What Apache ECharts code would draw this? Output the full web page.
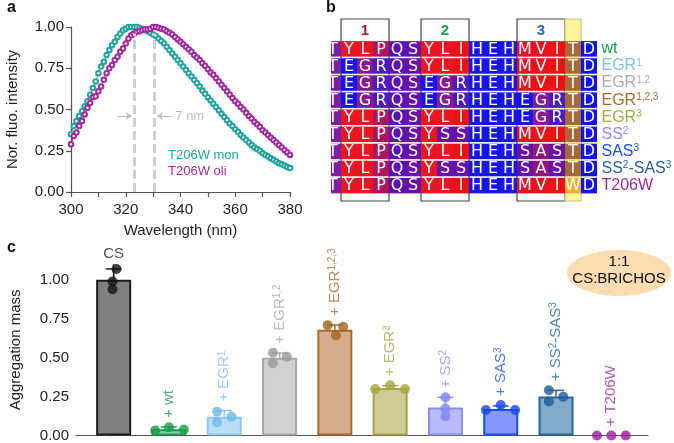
<!DOCTYPE html>
<html><head><meta charset="utf-8">
<script src="https://cdn.jsdelivr.net/npm/echarts@6/dist/echarts.min.js"></script>
<style>html,body{margin:0;padding:0;background:#fff}#c{width:674px;height:443px}</style>
</head><body><div id="c"></div>
<script>
// ---------- Panel a data ----------
const wavelengths = [300,301,302,303,304,305,306,307,308,309,310,311,312,313,314,315,316,317,318,319,320,321,322,323,324,325,326,327,328,329,330,331,332,333,334,335,336,337,338,339,340,341,342,343,344,345,346,347,348,349,350,351,352,353,354,355,356,357,358,359,360,361,362,363,364,365,366,367,368,369,370,371,372,373,374,375,376,377,378,379,380];
const monIntensity = [0.35,0.40,0.43,0.46,0.49,0.52,0.55,0.59,0.63,0.67,0.72,0.76,0.79,0.83,0.86,0.89,0.91,0.94,0.96,0.98,0.99,1.00,1.00,1.00,1.00,0.995,0.99,0.985,0.975,0.965,0.955,0.945,0.93,0.915,0.90,0.88,0.86,0.84,0.82,0.80,0.78,0.76,0.74,0.72,0.70,0.68,0.66,0.64,0.615,0.595,0.575,0.555,0.535,0.515,0.495,0.475,0.455,0.435,0.415,0.40,0.38,0.365,0.345,0.33,0.315,0.30,0.285,0.27,0.26,0.25,0.235,0.225,0.215,0.205,0.195,0.185,0.175,0.168,0.16,0.152,0.145];
const oliIntensity = [0.29,0.34,0.36,0.40,0.43,0.47,0.51,0.54,0.575,0.58,0.61,0.64,0.68,0.72,0.75,0.77,0.80,0.82,0.85,0.87,0.90,0.93,0.95,0.96,0.97,0.975,0.98,0.985,0.985,0.99,1.00,1.00,0.995,0.99,0.985,0.975,0.965,0.955,0.94,0.925,0.91,0.895,0.88,0.865,0.85,0.83,0.815,0.80,0.78,0.765,0.745,0.725,0.71,0.69,0.67,0.65,0.63,0.61,0.59,0.57,0.55,0.535,0.515,0.50,0.48,0.46,0.445,0.425,0.41,0.395,0.375,0.36,0.345,0.33,0.315,0.30,0.285,0.27,0.255,0.24,0.225];
const peakWavelengths = [323, 330.5];
const shiftLabel = '7 nm';
const seriesNamesA = ['T206W mon', 'T206W oli'];

// ---------- Panel b data ----------
const variantLabels = ['wt','EGR{s|1}','EGR{s|1,2}','EGR{s|1,2,3}','EGR{s|3}','SS{s|2}','SAS{s|3}','SS{s|2}-SAS{s|3}','T206W'];
const sequences = [
  'TYLPQSYLIHEHMVITD',
  'TEGRQSYLIHEHMVITD',
  'TEGRQSEGRHEHMVITD',
  'TEGRQSEGRHEHEGRTD',
  'TYLPQSYLIHEHEGRTD',
  'TYLPQSYSSHEHMVITD',
  'TYLPQSYLIHEHSASTD',
  'TYLPQSYSSHEHSASTD',
  'TYLPQSYLIHEHMVIWD'
];
const boxStartCol = [1, 6, 12];
const boxEndCol = [4, 9, 15];
const boxNumbers = ['1', '2', '3'];
const highlightCol = 15;

// ---------- Panel c data ----------
const barLabels = ['CS','+ wt','+ EGR{s|1}','+ EGR{s|1,2}','+ EGR{s|1,2,3}','+ EGR{s|3}','+ SS{s|2}','+ SAS{s|3}','+ SS{s|2}-SAS{s|3}','+ T206W'];
const barMeans = [1.00, 0.04, 0.12, 0.50, 0.68, 0.305, 0.18, 0.17, 0.25, 0];
const replicates = [
  [1.07, 0.99, 0.94],
  [0.032, 0.053, 0.038],
  [0.153, 0.085, 0.121],
  [0.532, 0.464, 0.506],
  [0.709, 0.643, 0.698],
  [0.298, 0.323, 0.298],
  [0.245, 0.174, 0.123],
  [0.164, 0.196, 0.164],
  [0.291, 0.219, 0.249],
  [0, 0, 0]
];
const errorTop = [1.07, 0.055, 0.16, 0.53, 0.71, 0.32, 0.245, 0.19, 0.29, null];
const jitter = [
  [0.05,-0.02,-0.02],[-0.25,0,0.27],[-0.13,-0.13,0.13],[-0.12,-0.12,0.13],[-0.13,0.02,0.15],
  [-0.27,0,0.27],[0,0,0],[-0.27,0,0.26],[-0.13,-0.13,0.13],[-0.26,0,0.26]
];
const ellipseText = ['1:1', 'CS:BRICHOS'];

// ---------- styles ----------
const FONT = '"Liberation Sans", Arial, Helvetica, sans-serif';
const monColor = '#20a39e', oliColor = '#a3299f';
const residueColors = {T:'#7b1fa6',Y:'#ec1520',L:'#ec1520',P:'#b0145c',Q:'#5a12b6',S:'#6612aa',I:'#f01010',H:'#1818e6',E:'#1414ec',M:'#e8121e',V:'#ec1018',D:'#1212ee',G:'#8a1a92',R:'#4c1cc0',A:'#92167c',W:'#f5b030'};
const highlightT = '#a86838';
const boxNumColors = ['#9b1b30','#1aa04a','#2a6aaa'];
const barFill = ['#808080','#86cfa0','#b9ddf6','#d1d1d1','#d6ad8a','#cfcb97','#b8bbff','#8598ff','#80a9cc',null];
const barBorder = ['#1a1a1a','#1f9a52','#8ec9f0','#a9a9a9','#a76a30','#a9a545','#8a8ff5','#1c4ff0','#2a65a0',null];
const pointColor = ['#111111','#1a9a4a','#72b9ea','#9a9a9a','#a0621e','#a8a23a','#8085f3','#1646e8','#1c5a98','#9a1a9a'];
const labelColor = ['#222222','#1a9a4a','#7fc1ee','#aaaaaa','#a66b2c','#aaa648','#8a8ef5','#1a52ee','#2464a0','#9a2a9a'];

const axisLineStyle = {lineStyle:{color:'#555', width:1.2}};
const axisTickStyle = {length:5, lineStyle:{color:'#555', width:1.2}};
const axisLabelBase = {color:'#222', fontSize:15, fontFamily:FONT};

const chart = echarts.init(document.getElementById('c'), null, {width:674, height:443});

// cells for panel b
const cellData = [], cellLetters = [];
sequences.forEach((seq, r) => {
  for (let c = 0; c < seq.length; c++) { cellData.push([c, r, cellLetters.length]); cellLetters.push(seq[c]); }
});

// replicate points
const pointData = [];
replicates.forEach((arr, i) => arr.forEach((v, k) => pointData.push({value:[i + jitter[i][k], v], itemStyle:{color:pointColor[i]}})));
const labelAnchors = replicates.map((arr, i) => [i, Math.max(...arr, errorTop[i] == null ? 0 : errorTop[i])]);

const option = {
  animation: false,
  backgroundColor: '#fff',
  grid: [
    {left:71, top:27, width:219, height:165},
    {left:331, top:19, width:266, height:182},
    {left:72, top:264.3, width:576, height:172.4}
  ],
  xAxis: [
    {gridIndex:0, type:'value', min:300, max:380, interval:10,
     axisLine:axisLineStyle, axisTick:axisTickStyle, splitLine:{show:false},
     axisLabel:Object.assign({}, axisLabelBase, {margin:10, formatter:v => (v % 20 === 0 ? String(v) : '')}),
     name:'Wavelength (nm)', nameLocation:'middle', nameGap:31,
     nameTextStyle:{color:'#222', fontSize:15, fontFamily:FONT}},
    {gridIndex:1, type:'value', min:0.375, max:17, show:false},
    {gridIndex:2, type:'value', min:-0.681, max:9.663, axisLine:axisLineStyle,
     axisTick:{show:false}, axisLabel:{show:false}, splitLine:{show:false}}
  ],
  yAxis: [
    {gridIndex:0, type:'value', min:0, max:1, interval:0.25,
     axisLine:{show:true, lineStyle:{color:'#555', width:1.2}}, axisTick:{show:true, length:5, lineStyle:{color:'#555', width:1.2}}, splitLine:{show:false},
     axisLabel:Object.assign({}, axisLabelBase, {margin:7, formatter:v => v.toFixed(2)}),
     name:'Nor. fluo. intensity', nameLocation:'middle', nameGap:51,
     nameTextStyle:{color:'#222', fontSize:15, fontFamily:FONT}},
    {gridIndex:1, type:'value', min:-1.294, max:9.353, inverse:true, show:false},
    {gridIndex:2, type:'value', min:0, max:1.1,
     axisLine:{show:true, lineStyle:{color:'#555', width:1.2}},
     axisTick:{show:true, length:5, lineStyle:{color:'#555', width:1.2}, customValues:[0,0.25,0.5,0.75,1]},
     splitLine:{show:false},
     axisLabel:Object.assign({}, axisLabelBase, {margin:7, formatter:v => v.toFixed(2), customValues:[0,0.25,0.5,0.75,1]}),
     name:'Aggregation mass', nameLocation:'middle', nameGap:53,
     nameTextStyle:{color:'#222', fontSize:15, fontFamily:FONT}}
  ],
  series: [
    // ---- panel a ----
    {type:'line', name:seriesNamesA[0], xAxisIndex:0, yAxisIndex:0,
     data:wavelengths.map((w, i) => [w, monIntensity[i]]),
     symbol:'emptyCircle', symbolSize:4.5, showAllSymbol:true,
     lineStyle:{color:monColor, width:1}, itemStyle:{color:monColor, borderWidth:1.4}, z:3,
     markLine:{silent:true, symbol:'none', animation:false,
       data:[
         [{coord:[peakWavelengths[0],0], lineStyle:{color:'#cfcfcf', width:3, type:[9,4]}, label:{show:false}}, {coord:[peakWavelengths[0],0.96]}],
         [{coord:[peakWavelengths[1],0], lineStyle:{color:'#cfcfcf', width:3, type:[9,4]}, label:{show:false}}, {coord:[peakWavelengths[1],0.96]}],
         [{coord:[316.8,0.46], symbol:'none', lineStyle:{color:'#bdbdbd', width:1, type:'solid'}, label:{show:false}}, {coord:[322.2,0.46], symbol:'arrow', symbolSize:[6,6]}],
         [{coord:[337.0,0.46], symbol:'none', lineStyle:{color:'#bdbdbd', width:1, type:'solid'},
           label:{show:true, position:'start', formatter:shiftLabel, color:'#bdbdbd', fontSize:13, fontFamily:FONT, distance:3}},
          {coord:[331.4,0.46], symbol:'arrow', symbolSize:[6,6]}]
       ]}},
    {type:'line', name:seriesNamesA[1], xAxisIndex:0, yAxisIndex:0,
     data:wavelengths.map((w, i) => [w, oliIntensity[i]]),
     symbol:'emptyCircle', symbolSize:4.5, showAllSymbol:true,
     lineStyle:{color:oliColor, width:1}, itemStyle:{color:oliColor, borderWidth:1.4}, z:3},
    // ---- panel b: boxes & highlight ----
    {type:'custom', xAxisIndex:1, yAxisIndex:1, clip:false, z:1,
     data:[0,1,2,3].map(i => [i]),
     renderItem:(params, api) => {
       const i = params.dataIndex;
       const isHL = i === 3;
       const c0 = isHL ? highlightCol : boxStartCol[i];
       const c1 = isHL ? highlightCol + 1 : boxEndCol[i];
       const p0 = api.coord([c0, -1.294]), p1 = api.coord([c1, 9.353]);
       const children = [{type:'rect', shape:{x:p0[0], y:p0[1], width:p1[0]-p0[0], height:p1[1]-p0[1]},
         style:{fill:isHL ? '#fff59a' : '#ffffff', stroke:isHL ? '#c9c48c' : '#444', lineWidth:1.2}}];
       if (!isHL) {
         const pc = api.coord([(c0 + c1) / 2, -0.62]);
         children.push({type:'text', style:{text:boxNumbers[i], x:pc[0], y:pc[1], align:'center', verticalAlign:'middle',
           fill:boxNumColors[i], font:'bold 15px ' + FONT}});
       }
       return {type:'group', children};
     }},
    // ---- panel b: cells ----
    {type:'custom', xAxisIndex:1, yAxisIndex:1, clip:true, z:2,
     data:cellData,
     renderItem:(params, api) => {
       const c = api.value(0), r = api.value(1);
       const letter = cellLetters[api.value(2)];
       const p0 = api.coord([c, r]), p1 = api.coord([c + 1, r + 1]);
       let fill = residueColors[letter];
       if (c === highlightCol && letter === 'T') fill = highlightT;
       return {type:'group', children:[
         {type:'rect', shape:{x:p0[0], y:p0[1], width:p1[0]-p0[0], height:p1[1]-p0[1]-1.6}, style:{fill}},
         {type:'text', style:{text:letter, x:(p0[0]+p1[0])/2, y:(p0[1]+p1[1]-1.6)/2 + 0.5, align:'center', verticalAlign:'middle',
           fill:'#ffffff', font:'16px "DejaVu Sans", Verdana, sans-serif'}}
       ]};
     }},
    // ---- panel b: row labels ----
    {type:'custom', xAxisIndex:1, yAxisIndex:1, clip:false, z:3,
     data:variantLabels.map((_, r) => [r]),
     renderItem:(params, api) => {
       const r = params.dataIndex;
       const p = api.coord([17, r + 0.45]);
       return {type:'text', style:{text:variantLabels[r], x:p[0] + 4.5, y:p[1], align:'left', verticalAlign:'middle',
         fill:labelColor[r + 1], font:'16px ' + FONT,
         rich:{s:{fontSize:10, fontFamily:FONT, fill:labelColor[r + 1], verticalAlign:'top'}}}};
     }},
    // ---- panel c: bars ----
    {type:'bar', xAxisIndex:2, yAxisIndex:2, barWidth:35, z:2,
     data:barMeans.map((v, i) => barFill[i] ? {value:[i, v], itemStyle:{color:barFill[i], borderColor:barBorder[i], borderWidth:2}} : {value:[i, null]})},
    // ---- panel c: error bars ----
    {type:'custom', xAxisIndex:2, yAxisIndex:2, clip:false, z:3,
     data:barMeans.map((v, i) => [i, v, errorTop[i] == null ? v : errorTop[i]]),
     renderItem:(params, api) => {
       const i = params.dataIndex;
       if (errorTop[i] == null) return null;
       const a = api.coord([api.value(0), api.value(1)]), b = api.coord([api.value(0), api.value(2)]);
       const st = {stroke:barBorder[i], lineWidth:1.5};
       return {type:'group', children:[
         {type:'line', shape:{x1:a[0], y1:a[1], x2:b[0], y2:b[1]}, style:st},
         {type:'line', shape:{x1:b[0]-8, y1:b[1], x2:b[0]+8, y2:b[1]}, style:st}
       ]};
     }},
    // ---- panel c: replicate points ----
    {type:'scatter', xAxisIndex:2, yAxisIndex:2, symbolSize:10, clip:false, z:4, data:pointData},
    // ---- panel c: labels ----
    {type:'scatter', xAxisIndex:2, yAxisIndex:2, symbolSize:0, clip:false, z:5,
     data:labelAnchors.map((p, i) => ({value:p,
       label: i === 0 ?
         {show:true, position:'top', distance:8, formatter:barLabels[i], color:labelColor[i], fontSize:15, fontFamily:FONT, align:'center', verticalAlign:'bottom'} :
         {show:true, position:'top', distance:9, rotate:90, align:'left', verticalAlign:'middle', formatter:barLabels[i],
          color:labelColor[i], fontSize:15, fontFamily:FONT,
          rich:{s:{fontSize:10, fontFamily:FONT, color:labelColor[i], verticalAlign:'top'}}}
     }))}
  ],
  graphic: [
    {type:'text', left:7, top:0, style:{text:'a', font:'bold 16px ' + FONT, fill:'#111'}},
    {type:'text', left:326, top:0, style:{text:'b', font:'bold 16px ' + FONT, fill:'#111'}},
    {type:'text', left:7, top:240, style:{text:'c', font:'bold 16px ' + FONT, fill:'#111'}},
    {type:'text', left:168, top:149, style:{text:seriesNamesA[0], font:'13px ' + FONT, fill:monColor}},
    {type:'text', left:168, top:165, style:{text:seriesNamesA[1], font:'13px ' + FONT, fill:oliColor}},
    {type:'ellipse', shape:{cx:619, cy:273, rx:52, ry:23}, style:{fill:'#fddcb2'}, z:1},
    {type:'text', x:619, y:262, style:{text:ellipseText[0], font:'15px ' + FONT, fill:'#111', align:'center', verticalAlign:'middle'}, z:2},
    {type:'text', x:619, y:279, style:{text:ellipseText[1], font:'15px ' + FONT, fill:'#111', align:'center', verticalAlign:'middle'}, z:2}
  ]
};
chart.setOption(option);
</script>
</body></html>
